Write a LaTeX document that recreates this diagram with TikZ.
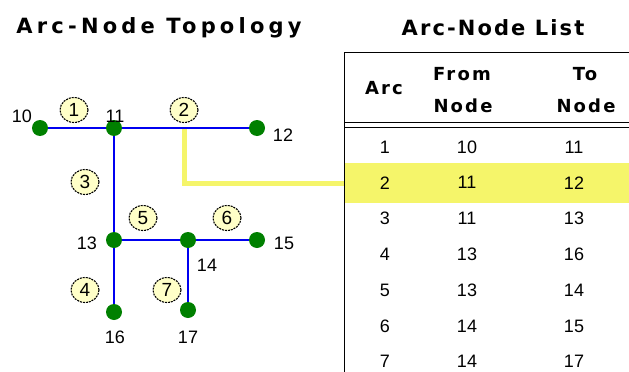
\documentclass[tikz,border=0pt]{standalone}
\usepackage{fontspec}
\usetikzlibrary{shapes.geometric}
\setmainfont{Liberation Sans}
\newfontfamily\titlefont{DejaVu Sans}[LetterSpace=20]
\newfontfamily\listfont{DejaVu Sans}[LetterSpace=10]
\newfontfamily\headfont{DejaVu Sans}[LetterSpace=12]
\definecolor{dotgreen}{HTML}{008000}
\definecolor{arcblue}{HTML}{0000F0}
\definecolor{hiyellow}{HTML}{F5F56A}
\definecolor{tagfill}{HTML}{FFFFC8}
\begin{document}
\begin{tikzpicture}[x=1pt,y=-1pt,
  dot/.style={circle,fill=dotgreen,inner sep=0pt,minimum size=16pt},
  arcline/.style={arcblue,line width=2pt},
  tag/.style={ellipse,draw=black,dash pattern=on 2pt off 1pt,line width=1.1pt,fill=tagfill,minimum width=28pt,minimum height=25pt,inner sep=0pt,font=\fontsize{19}{19}\selectfont},
  lbl/.style={font=\fontsize{18}{18}\selectfont,inner sep=0pt},
  ttl/.style={font=\titlefont\bfseries\fontsize{21}{21}\selectfont,inner sep=0pt},
  hd/.style={font=\headfont\bfseries\fontsize{18}{18}\selectfont,inner sep=0pt},
  cell/.style={font=\fontsize{18}{18}\selectfont,inner sep=0pt},
  tline/.style={black,line width=1pt}
]
\useasboundingbox (0,0) rectangle (629,372);
% titles
\node[ttl] (t1) at (159,28) {Arc-Node Topology};
\node[ttl,font=\listfont\bfseries\fontsize{21}{21}\selectfont] (t2) at (493,28) {Arc-Node List};
% highlight row
\node[fill=hiyellow,inner sep=0pt,minimum width=284pt,minimum height=40pt,anchor=west] (hl) at (345,183) {};
% yellow connector
\coordinate (ys) at (184,128);
\draw[hiyellow,line width=5pt] (ys) |- (hl.west);
% nodes
\node[dot] (n10) at (40,128) {};
\node[dot] (n11) at (114,128) {};
\node[dot] (n12) at (257,128) {};
\node[dot] (n13) at (114,240) {};
\node[dot] (n14) at (188,240) {};
\node[dot] (n15) at (257,240) {};
\node[dot] (n16) at (114,312) {};
\node[dot] (n17) at (188,310) {};
% arcs
\draw[arcline] (n10) -- (n11);
\draw[arcline] (n11) -- (n12);
\draw[arcline] (n11) -- (n13);
\draw[arcline] (n13) -- (n16);
\draw[arcline] (n13) -- (n14);
\draw[arcline] (n14) -- (n15);
\draw[arcline] (n14) -- (n17);
% node labels
\node[lbl] (l10) at (22,116) {10};
\node[lbl] (l11) at (115,116) {11};
\node[lbl] (l12) at (283,135) {12};
\node[lbl] (l13) at (87,243) {13};
\node[lbl] (l14) at (207,265) {14};
\node[lbl] (l15) at (284,243) {15};
\node[lbl] (l16) at (115,337) {16};
\node[lbl] (l17) at (188,337) {17};
% arc tags
\node[tag] (a1) at (74,110) {1};
\node[tag] (a2) at (184,110) {2};
\node[tag] (a3) at (85,182) {3};
\node[tag] (a4) at (85,290) {4};
\node[tag] (a5) at (143,218) {5};
\node[tag] (a6) at (227,218) {6};
\node[tag] (a7) at (167,290) {7};
% table frame
\coordinate (tl) at (344,52);
\coordinate (tr) at (629,52);
\coordinate (bl) at (344,372);
\coordinate (d1l) at (344,122);
\coordinate (d1r) at (629,122);
\coordinate (d2l) at (344,127);
\coordinate (d2r) at (629,127);
\draw[tline] (tr) -- (tl) -- (bl);
\draw[tline] (d1l) -- (d1r);
\draw[tline] (d2l) -- (d2r);
% header
\node[hd] (hArc) at (384,88) {Arc};
\node[hd] (hFrom) at (462,74) {From};
\node[hd] (hFromN) at (463,106) {Node};
\node[hd] (hTo) at (585,74) {To};
\node[hd] (hToN) at (586,106) {Node};
% rows
\foreach \a/\f/\t [count=\i] in {1/10/11,2/11/12,3/11/13,4/13/16,5/13/14,6/14/15,7/14/17}{
  \pgfmathsetmacro{\yy}{147+(\i-1)*35.8}
  \node[cell] (r\i a) at (385,\yy) {\a};
  \node[cell] (r\i f) at (467,\yy) {\f};
  \node[cell] (r\i t) at (574,\yy) {\t};
}
\end{tikzpicture}
\end{document}
